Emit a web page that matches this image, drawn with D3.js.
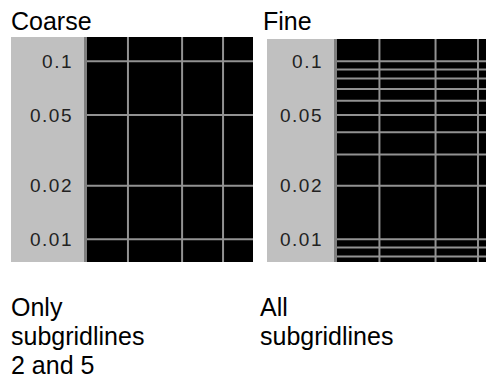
<!DOCTYPE html>
<html>
<head>
<meta charset="utf-8">
<script src="https://cdn.jsdelivr.net/npm/d3@7"></script>
<style>
  html, body { margin: 0; padding: 0; background: #fff; }
  svg { display: block; }
</style>
</head>
<body>
<svg id="chart" width="486" height="378"></svg>
<script>
// ---- data ----
const panelTitles = ["Coarse", "Fine"];
const yTickLabels = [0.1, 0.05, 0.02, 0.01];
const coarseGridLines = [0.1, 0.05, 0.02, 0.01];
const fineGridLines = [0.1, 0.09, 0.08, 0.07, 0.06, 0.05, 0.04, 0.03, 0.02, 0.01, 0.009, 0.008];
const xGridLines = [2, 5, 10];
const yDomain = [0.00746, 0.137];
const xDomain = [1, 16.6];
const captions = [["Only", "subgridlines", "2 and 5"], ["All", "subgridlines"]];

// ---- layout ----
const svg = d3.select("#chart");
const panels = [
  { title: panelTitles[0], grid: coarseGridLines, caption: captions[0], left: 11, labelW: 73, top: 37, titleX: 11, capX: 11 },
  { title: panelTitles[1], grid: fineGridLines, caption: captions[1], left: 267, labelW: 67, top: 39, titleX: 263, capX: 260 }
];
const panelW = 242, bottom = 262, borderW = 3;
const y = d3.scaleLog().domain(yDomain).range([bottom, 37]);

panels.forEach((p, i) => {
  const g = svg.append("g");
  const plotX = p.left + p.labelW + borderW;
  const plotW = panelW - p.labelW - borderW;
  const x = d3.scaleLog().domain(xDomain).range([plotX, plotX + plotW]);
  const clipId = "clip" + i;
  svg.append("clipPath").attr("id", clipId)
    .append("rect").attr("x", plotX).attr("y", p.top).attr("width", plotW).attr("height", bottom - p.top);

  // label area
  g.append("rect").attr("x", p.left).attr("y", p.top).attr("width", p.labelW).attr("height", bottom - p.top).attr("fill", "#c0c0c0");
  g.append("rect").attr("x", p.left + p.labelW).attr("y", p.top).attr("width", borderW).attr("height", bottom - p.top).attr("fill", "#7f7f7f");
  // plot area
  g.append("rect").attr("x", plotX).attr("y", p.top).attr("width", plotW).attr("height", bottom - p.top).attr("fill", "#000");

  const grid = g.append("g").attr("clip-path", `url(#${clipId})`);
  grid.selectAll("line.h").data(p.grid).join("line")
    .attr("x1", plotX).attr("x2", plotX + plotW)
    .attr("y1", d => y(d)).attr("y2", d => y(d))
    .attr("stroke", "#929292").attr("stroke-width", 2);
  grid.selectAll("line.v").data(xGridLines).join("line")
    .attr("x1", d => x(d)).attr("x2", d => x(d))
    .attr("y1", p.top).attr("y2", bottom)
    .attr("stroke", "#929292").attr("stroke-width", 2);

  // tick labels
  g.selectAll("text.tick").data(yTickLabels).join("text")
    .attr("x", p.left + p.labelW - 11)
    .attr("y", d => y(d))
    .attr("dy", "0.35em")
    .attr("text-anchor", "end")
    .attr("font-family", "Liberation Sans, Arial, sans-serif")
    .attr("font-size", 19)
    .attr("letter-spacing", 1.5)
    .attr("fill", "#222")
    .text(d => d);

  // title
  g.append("text").attr("x", p.titleX).attr("y", 30)
    .attr("font-family", "Liberation Sans, Arial, sans-serif")
    .attr("font-size", 25).attr("fill", "#000").text(p.title);

  // caption
  g.selectAll("text.cap").data(p.caption).join("text")
    .attr("x", p.capX).attr("y", (d, k) => 316 + k * 29)
    .attr("font-family", "Liberation Sans, Arial, sans-serif")
    .attr("font-size", 25).attr("fill", "#000").text(d => d);
});
</script>
</body>
</html>
